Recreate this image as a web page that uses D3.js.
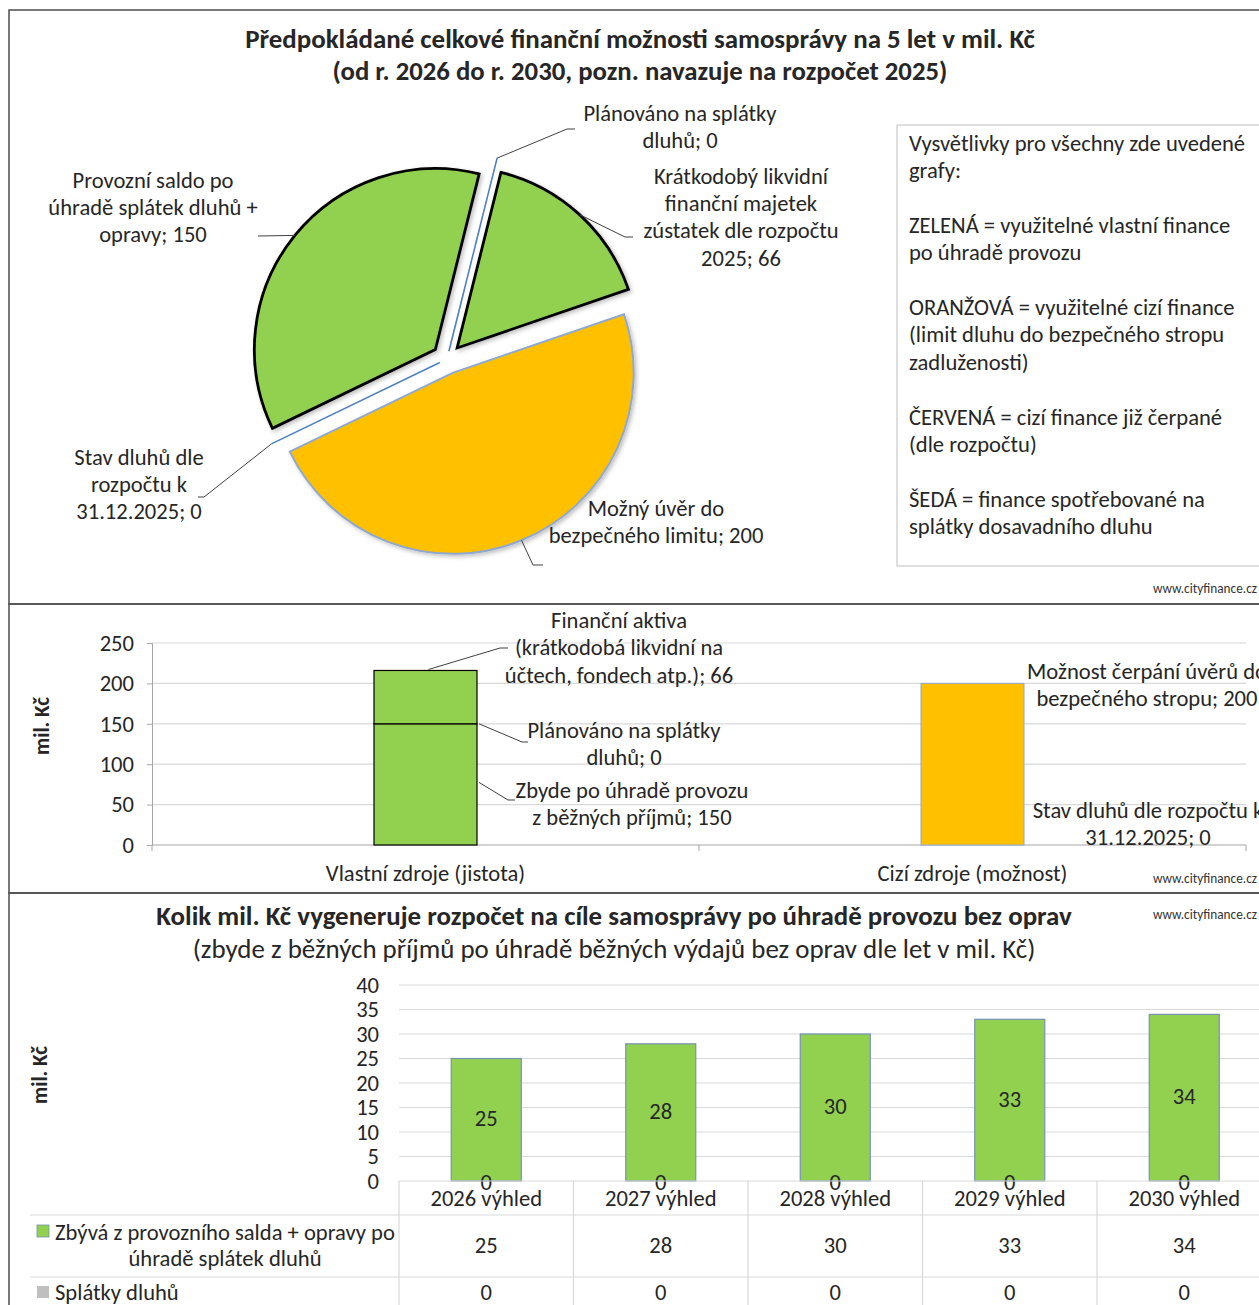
<!DOCTYPE html>
<html><head><meta charset="utf-8">
<script src="https://cdn.jsdelivr.net/npm/d3@7/dist/d3.min.js"></script>
<style>
html,body{margin:0;padding:0;background:#fff;}
svg{display:block;}
text{font-family:Carlito,Lato,"Open Sans",sans-serif;fill:#262626;}
</style></head><body>
<svg id="chart" width="1259" height="1305"></svg>
<script>
// ---------------- DATA ----------------
const pieTitle = ["Předpokládané celkové finanční možnosti samosprávy na 5 let v mil. Kč",
                  "(od r. 2026 do r. 2030, pozn. navazuje na rozpočet 2025)"];
const pieNames = ["Plánováno na splátky dluhů",
                  "Krátkodobý likvidní finanční majetek zústatek dle rozpočtu 2025",
                  "Možný úvěr do bezpečného limitu",
                  "Stav dluhů dle rozpočtu k 31.12.2025",
                  "Provozní saldo po úhradě splátek dluhů + opravy"];
const pieValues = [0, 66, 200, 0, 150];
const pieLabelLines = [["Plánováno na splátky","dluhů"],
                       ["Krátkodobý likvidní","finanční majetek","zústatek dle rozpočtu","2025"],
                       ["Možný úvěr do","bezpečného limitu"],
                       ["Stav dluhů dle","rozpočtu k","31.12.2025"],
                       ["Provozní saldo po","úhradě splátek dluhů +","opravy"]];
const pieColors = ["none", "#92D050", "#FFC000", "none", "#92D050"];
const pieStrokes = ["#4F81BD", "#000000", "#8FA8D0", "#4F81BD", "#000000"];

const legendLines = ["Vysvětlivky pro všechny zde uvedené","grafy:","",
  "ZELENÁ = využitelné vlastní finance","po úhradě provozu","",
  "ORANŽOVÁ = využitelné cizí finance","(limit dluhu do bezpečného stropu","zadluženosti)","",
  "ČERVENÁ = cizí finance již čerpané","(dle rozpočtu)","",
  "ŠEDÁ = finance spotřebované na","splátky dosavadního dluhu"];

const sourceCategories = ["Vlastní zdroje (jistota)", "Cizí zdroje (možnost)"];
const ownNames = ["Zbyde po úhradě provozu z běžných příjmů", "Plánováno na splátky dluhů",
                  "Finanční aktiva (krátkodobá likvidní na účtech, fondech atp.)"];
const ownValues = [150, 0, 66];
const ownLabelLines = [["Zbyde po úhradě provozu","z běžných příjmů"],
                       ["Plánováno na splátky","dluhů"],
                       ["Finanční aktiva","(krátkodobá likvidní na","účtech, fondech atp.)"]];
const foreignNames = ["Stav dluhů dle rozpočtu k 31.12.2025", "Možnost čerpání úvěrů do bezpečného stropu"];
const foreignValues = [0, 200];
const foreignLabelLines = [["Stav dluhů dle rozpočtu k","31.12.2025"],
                           ["Možnost čerpání úvěrů do","bezpečného stropu"]];
const sourceTicks = [0, 50, 100, 150, 200, 250];

const yearTitle = ["Kolik mil. Kč vygeneruje rozpočet na cíle samosprávy po úhradě provozu bez oprav",
                   "(zbyde z běžných příjmů po úhradě běžných výdajů bez oprav dle let v mil. Kč)"];
const years = ["2026 výhled", "2027 výhled", "2028 výhled", "2029 výhled", "2030 výhled"];
const remainingValues = [25, 28, 30, 33, 34];
const repaymentValues = [0, 0, 0, 0, 0];
const seriesNames = ["Zbývá z provozního salda + opravy po", "úhradě splátek dluhů", "Splátky dluhů"];
const yearTicks = [0, 5, 10, 15, 20, 25, 30, 35, 40];
const axisTitle = "mil. Kč";
const watermark = "www.cityfinance.cz";

// ---------------- HELPERS ----------------
const svg = d3.select("#chart");
function textWidth(str, size, weight) {
  const t = svg.append("text").style("font-size", size + "px").style("font-weight", weight).text(str);
  const w = t.node().getComputedTextLength(); t.remove(); return w;
}
function fit(str, target, weight) { return 100 * target / textWidth(str, 100, weight || 400); }
const FS = (fit("Plánováno na splátky", 192) + fit("Vysvětlivky pro všechny zde uvedené", 338) + fit("bezpečného limitu; 200", 215)) / 3;
function txt(g, s, x, y, o) {
  o = o || {};
  return g.append("text").attr("x", x).attr("y", y)
    .attr("text-anchor", o.anchor || "middle").attr("dominant-baseline", "central")
    .style("font-size", (o.size || FS) + "px").style("font-weight", o.weight || 400)
    .style("fill", o.fill || "#262626").text(s);
}
function multi(g, arr, x, y0, lh, o) { arr.forEach((s, i) => txt(g, s, x, y0 + i * lh, o)); }
function leader(g, pts) {
  g.append("path").attr("d", d3.line()(pts)).attr("fill", "none").attr("stroke", "#404040").attr("stroke-width", 1);
}
const LH = 27.4;

// ---------------- PANEL FRAMES ----------------
const frame = svg.append("g").attr("fill", "none").attr("stroke", "#4d4d4d").attr("stroke-width", 1.5);
frame.append("rect").attr("x", 9).attr("y", 10).attr("width", 1270).attr("height", 594);
frame.append("rect").attr("x", 9).attr("y", 604).attr("width", 1270).attr("height", 289);
frame.append("rect").attr("x", 9).attr("y", 893).attr("width", 1270).attr("height", 430);

// ---------------- PANEL 1: PIE ----------------
const p1 = svg.append("g");
txt(p1, pieTitle[0], 640, 38, {weight: 700, size: fit(pieTitle[0], 790, 700)});
txt(p1, pieTitle[1], 640, 71, {weight: 700, size: fit(pieTitle[1], 615, 700)});

const start = 14 * Math.PI / 180;
const pie = d3.pie().sort(null).value(d => d).startAngle(start).endAngle(start + 2 * Math.PI);
const arcsData = pie(pieValues);
const C = [447, 359], R = 181, EXP = 15;
const arc = d3.arc().innerRadius(0).outerRadius(R);
const defs = svg.append("defs");
const f = defs.append("filter").attr("id", "sh").attr("x", "-10%").attr("y", "-10%").attr("width", "130%").attr("height", "130%");
f.append("feDropShadow").attr("dx", 2).attr("dy", 2).attr("stdDeviation", 2).attr("flood-color", "#000").attr("flood-opacity", 0.25);

const zeroLen = [R + 26, R + 14];
let zi = 0;
const anchors = [];
arcsData.forEach((a, i) => {
  const mid = (a.startAngle + a.endAngle) / 2;
  const u = [Math.sin(mid), -Math.cos(mid)];
  if (pieValues[i] === 0) {
    const L = zeroLen[zi++];
    const p0 = [C[0] + u[0] * 8, C[1] + u[1] * 8];
    const p1e = [C[0] + u[0] * L, C[1] + u[1] * L];
    p1.append("line").attr("x1", p0[0]).attr("y1", p0[1]).attr("x2", p1e[0]).attr("y2", p1e[1])
      .attr("stroke", pieStrokes[i]).attr("stroke-width", 1.6);
    anchors.push(p1e);
  } else {
    const o = [C[0] + u[0] * EXP, C[1] + u[1] * EXP];
    p1.append("path").attr("d", arc(a)).attr("transform", `translate(${o[0]},${o[1]})`)
      .attr("fill", pieColors[i]).attr("stroke", pieStrokes[i]).attr("stroke-width", i === 2 ? 2 : 2.8)
      .attr("stroke-linejoin", "miter").attr("filter", "url(#sh)");
    anchors.push([o[0] + u[0] * R, o[1] + u[1] * R]);
  }
});

// labels
const pieLabelPos = [[680, 113], [741, 176], [656, 508], [139, 457], [153, 180]];
const pieLeaderEnds = [[[567, 129], [575, 129]], [[625, 237], [633, 237]], [[533, 565], [543, 565]],
                       [[204, 497], [198, 497]], [[258, 236]]];
pieLabelLines.forEach((ls, i) => {
  const lines = ls.slice(); lines[lines.length - 1] += "; " + pieValues[i];
  multi(p1, lines, pieLabelPos[i][0], pieLabelPos[i][1], LH);
  leader(p1, [anchors[i]].concat(pieLeaderEnds[i]));
});

// legend box
p1.append("rect").attr("x", 897).attr("y", 125).attr("width", 400).attr("height", 441)
  .attr("fill", "#fff").attr("stroke", "#c8c8c8").attr("stroke-width", 1.2);
legendLines.forEach((s, i) => { if (s) txt(p1, s, 909, 143 + i * LH, {anchor: "start"}); });
const WM = fit(watermark, 104);
txt(p1, watermark, 1257, 588, {anchor: "end", size: WM, fill: "#333"});

// ---------------- PANEL 2: SOURCES ----------------
const p2 = svg.append("g");
const x2 = d3.scaleBand().domain(sourceCategories).range([152, 1246]);
const y2 = d3.scaleLinear().domain([0, 250]).range([845, 643]);
const bw2 = 103;
sourceTicks.filter(t => t > 0).forEach(t => {
  p2.append("line").attr("x1", 152).attr("x2", 1246).attr("y1", y2(t)).attr("y2", y2(t)).attr("stroke", "#d9d9d9").attr("stroke-width", 1.2);
});
const ax2 = p2.append("g").attr("transform", "translate(152,0)")
  .call(d3.axisLeft(y2).tickValues(sourceTicks).tickSize(5).tickPadding(13).tickFormat(d3.format("d")));
ax2.select(".domain").attr("stroke", "#a6a6a6");
ax2.selectAll(".tick line").attr("stroke", "#a6a6a6");
ax2.selectAll(".tick text").style("font-size", FS + "px").style("font-family", null).attr("fill", "#262626");
// bottom axis
p2.append("line").attr("x1", 152).attr("x2", 1246).attr("y1", y2(0)).attr("y2", y2(0)).attr("stroke", "#a6a6a6").attr("stroke-width", 1.2);
[152, 152 + x2.bandwidth(), 152 + 2 * x2.bandwidth()].forEach(x => {
  p2.append("line").attr("x1", x).attr("x2", x).attr("y1", y2(0)).attr("y2", y2(0) + 6).attr("stroke", "#a6a6a6");
});
sourceCategories.forEach(c => txt(p2, c, x2(c) + x2.bandwidth() / 2, 873));
txt(p2, axisTitle, 0, 0, {weight: 700, size: fit(axisTitle, 58, 700)}).attr("transform", "translate(42,726) rotate(-90)");

// own stacked bar
const cx0 = x2(sourceCategories[0]) + x2.bandwidth() / 2;
const ownEnds = d3.cumsum(ownValues);
const ownStarts = ownEnds.map((e, i) => e - ownValues[i]);
ownValues.forEach((v, i) => {
  p2.append("rect").attr("x", cx0 - bw2 / 2).attr("width", bw2)
    .attr("y", y2(ownEnds[i])).attr("height", y2(ownStarts[i]) - y2(ownEnds[i]))
    .attr("fill", "#92D050").attr("stroke", "#000").attr("stroke-width", 1.2);
});
const ownLabelPos = [[632, 790], [624, 730], [619, 620]];
const ownLeaders = [
  [[cx0 + bw2 / 2 + 2, y2((ownStarts[0] + ownEnds[0]) / 2) - 2], [508, 800], [515, 800]],
  [[cx0 + bw2 / 2 + 2, y2(ownEnds[1])], [522, 742], [528, 742]],
  [[cx0 + 3, y2(ownEnds[2]) - 1], [500, 648], [508, 648]]
];
ownLabelLines.forEach((ls, i) => {
  const lines = ls.slice(); lines[lines.length - 1] += "; " + ownValues[i];
  multi(p2, lines, ownLabelPos[i][0], ownLabelPos[i][1], 27.5);
  leader(p2, ownLeaders[i]);
});
// foreign stacked bar
const cx1 = x2(sourceCategories[1]) + x2.bandwidth() / 2;
const fEnds = d3.cumsum(foreignValues);
const fStarts = fEnds.map((e, i) => e - foreignValues[i]);
foreignValues.forEach((v, i) => {
  p2.append("rect").attr("x", cx1 - bw2 / 2).attr("width", bw2)
    .attr("y", y2(fEnds[i])).attr("height", y2(fStarts[i]) - y2(fEnds[i]))
    .attr("fill", "#FFC000").attr("stroke", "#8FA8D0").attr("stroke-width", 1);
});
const fLabelPos = [[1148, 810], [1147, 671]];
foreignLabelLines.forEach((ls, i) => {
  const lines = ls.slice(); lines[lines.length - 1] += "; " + foreignValues[i];
  multi(p2, lines, fLabelPos[i][0], fLabelPos[i][1], 27.5);
});
txt(p2, watermark, 1257, 878, {anchor: "end", size: WM, fill: "#333"});

// ---------------- PANEL 3: YEARS ----------------
const p3 = svg.append("g");
txt(p3, yearTitle[0], 614, 915, {weight: 700, size: fit(yearTitle[0], 916, 700)});
txt(p3, yearTitle[1], 614, 948, {size: fit(yearTitle[1], 843, 400)});
txt(p3, watermark, 1257, 914, {anchor: "end", size: WM, fill: "#333"});
txt(p3, axisTitle, 0, 0, {weight: 700, size: fit(axisTitle, 58, 700)}).attr("transform", "translate(40,1075) rotate(-90)");

const x3 = d3.scaleBand().domain(years).range([399, 1271.5]);
const y3 = d3.scaleLinear().domain([0, 40]).range([1181, 985]);
yearTicks.filter(t => t > 0).forEach(t => {
  p3.append("line").attr("x1", 399).attr("x2", 1271).attr("y1", y3(t)).attr("y2", y3(t)).attr("stroke", "#d9d9d9").attr("stroke-width", 1.2);
});
const ax3 = p3.append("g").attr("transform", "translate(399,0)")
  .call(d3.axisLeft(y3).tickValues(yearTicks).tickSize(0).tickPadding(20).tickFormat(d3.format("d")));
ax3.select(".domain").remove();
ax3.selectAll(".tick text").style("font-size", FS + "px").style("font-family", null).attr("fill", "#262626");

const bw3 = 70;
years.forEach((yr, i) => {
  const cx = x3(yr) + x3.bandwidth() / 2;
  const b0 = repaymentValues[i];
  p3.append("rect").attr("x", cx - bw3 / 2).attr("width", bw3)
    .attr("y", y3(b0 + remainingValues[i])).attr("height", y3(b0) - y3(b0 + remainingValues[i]))
    .attr("fill", "#92D050").attr("stroke", "#7592b5").attr("stroke-width", 1.2);
  txt(p3, String(remainingValues[i]), cx, y3(b0 + remainingValues[i] / 2) - 1);
  txt(p3, String(repaymentValues[i]), cx, y3(repaymentValues[i] / 2) + 1);
});

// data table
const grid = p3.append("g").attr("stroke", "#d9d9d9").attr("stroke-width", 1.2);
grid.append("line").attr("x1", 399).attr("x2", 1271).attr("y1", 1181).attr("y2", 1181);
grid.append("line").attr("x1", 30).attr("x2", 1271).attr("y1", 1215).attr("y2", 1215);
grid.append("line").attr("x1", 30).attr("x2", 1271).attr("y1", 1277).attr("y2", 1277);
years.concat(["end"]).forEach((yr, i) => {
  const x = 399 + i * x3.bandwidth();
  grid.append("line").attr("x1", x).attr("x2", x).attr("y1", 1181).attr("y2", 1310);
});
years.forEach((yr, i) => {
  const cx = x3(yr) + x3.bandwidth() / 2;
  txt(p3, yr, cx, 1198);
  txt(p3, String(remainingValues[i]), cx, 1245);
  txt(p3, String(repaymentValues[i]), cx, 1292);
});
p3.append("rect").attr("x", 37).attr("y", 1225).attr("width", 12).attr("height", 12).attr("fill", "#92D050").attr("stroke", "#7592b5").attr("stroke-width", 0.8);
txt(p3, seriesNames[0], 55, 1232, {anchor: "start"});
txt(p3, seriesNames[1], 225, 1258);
p3.append("rect").attr("x", 37).attr("y", 1286).attr("width", 12).attr("height", 12).attr("fill", "#bfbfbf");
txt(p3, seriesNames[2], 55, 1292, {anchor: "start"});
</script>
</body></html>
